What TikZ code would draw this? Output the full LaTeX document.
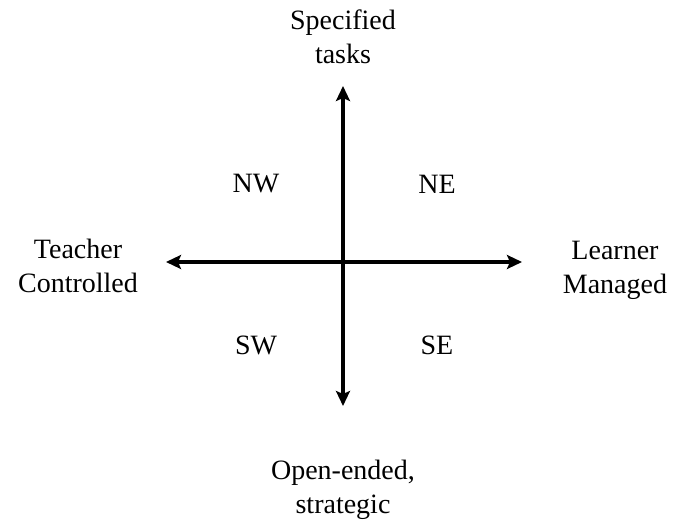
\documentclass[tikz,border=0pt]{standalone}
\usepackage{fontspec}
\setmainfont{Liberation Serif}
\usetikzlibrary{arrows.meta}

\begin{document}
\begin{tikzpicture}[x=1pt,y=1pt,
    axis/.style={line width=4pt,
        {Stealth[length=15pt,width=14pt,inset=3pt]}-{Stealth[length=15pt,width=14pt,inset=3pt]}},
    pole/.style={align=center, font=\fontsize{28}{34}\selectfont},
    quad/.style={font=\fontsize{28}{34}\selectfont}]

\useasboundingbox (0,0) rectangle (678,523);

\coordinate (top) at (343,437);
\coordinate (bottom) at (343,117);
\coordinate (left) at (166,261);
\coordinate (right) at (522,261);

\draw[axis] (bottom) -- (top);
\draw[axis] (left) -- (right);

\node[pole] (tasks) at (343,486) {Specified\\tasks};
\node[pole] (teacher) at (78,257) {Teacher\\Controlled};
\node[pole] (learner) at (615,253) {Learner\\Managed};
\node[pole] (open) at (343,33) {Open-ended,\\strategic};

\node[quad] (nw) at (256,339) {NW};
\node[quad] (ne) at (437,339) {NE};
\node[quad] (sw) at (256,178) {SW};
\node[quad] (se) at (437,178) {SE};

\end{tikzpicture}
\end{document}
